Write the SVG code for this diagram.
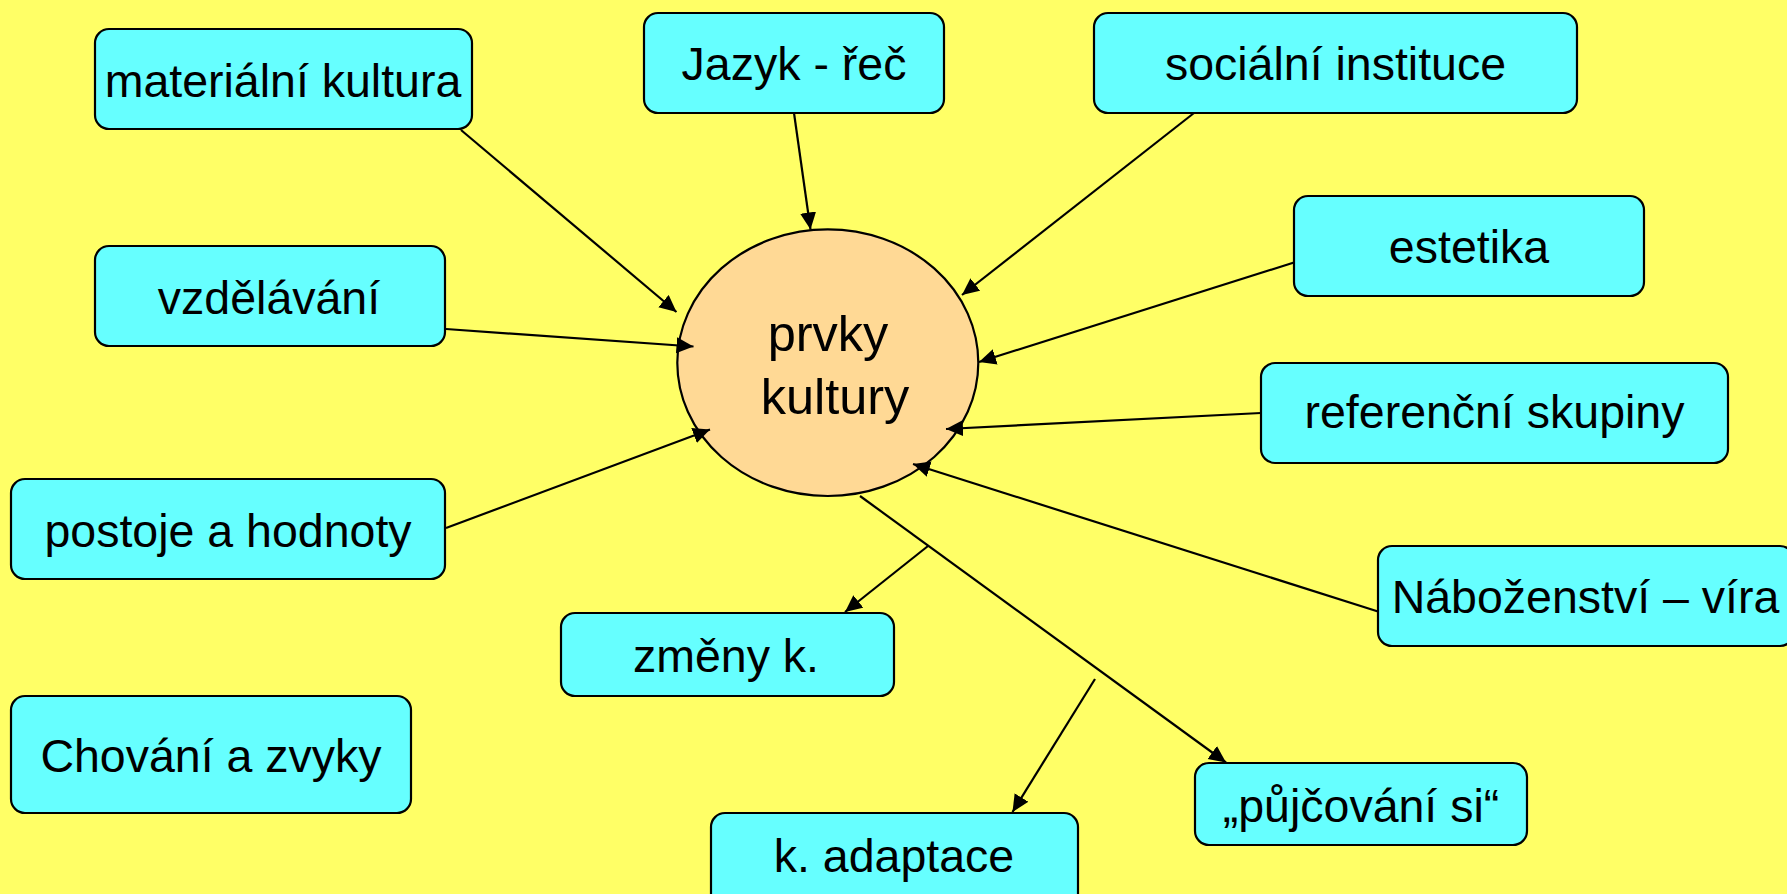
<svg xmlns="http://www.w3.org/2000/svg" width="1787" height="894" viewBox="0 0 1787 894">
<defs>
<style>
.box{fill:#66FFFF;stroke:#000;stroke-width:2.2}
.t{font-family:"Liberation Sans",Arial,sans-serif;font-size:46.5px;fill:#000;text-anchor:middle}
.c{font-size:50.5px}
.ln{stroke:#000;stroke-width:2.2;fill:none}
.ar{marker-end:url(#ah)}
</style>
<marker id="ah" markerUnits="userSpaceOnUse" markerWidth="20" markerHeight="18" refX="17" refY="8" orient="auto" viewBox="0 0 20 18">
<path d="M0,0 L17,8 L0,16 z" fill="#000"/>
</marker>
</defs>
<rect width="1787" height="894" fill="#FFFF66"/>
<g id="center">
<ellipse cx="827.8" cy="362.7" rx="150.5" ry="133.3" fill="#FFD995" stroke="#000" stroke-width="2.2"/>
<text class="t c" x="828" y="350.5">prvky</text>
<text class="t c" x="835" y="413.5">kultury</text>
</g>
<g id="connectors">
<line class="ln ar" x1="461" y1="130" x2="676.5" y2="312"/>
<line class="ln ar" x1="794" y1="113" x2="810.5" y2="229.5"/>
<line class="ln ar" x1="1194" y1="113" x2="962" y2="295"/>
<line class="ln ar" x1="1294" y1="262.5" x2="979" y2="362"/>
<line class="ln ar" x1="446" y1="329" x2="693.5" y2="346.5"/>
<line class="ln ar" x1="1261" y1="413" x2="946" y2="429"/>
<line class="ln ar" x1="446" y1="528" x2="710" y2="429.5"/>
<line class="ln ar" x1="1378" y1="611.5" x2="913" y2="464"/>
<line class="ln ar" x1="860" y1="496" x2="1226" y2="762.5"/>
<line class="ln ar" x1="928" y1="546" x2="845" y2="612"/>
<line class="ln ar" x1="1095" y1="679" x2="1012.5" y2="812"/>
</g>
<g id="n-materialni"><rect class="box" x="95" y="29" width="377" height="100" rx="14"/><text class="t" x="283" y="97">materiální kultura</text></g>
<g id="n-jazyk"><rect class="box" x="644" y="13" width="300" height="100" rx="14"/><text class="t" x="794" y="80">Jazyk - řeč</text></g>
<g id="n-socialni"><rect class="box" x="1094" y="13" width="483" height="100" rx="14"/><text class="t" x="1335.5" y="80">sociální instituce</text></g>
<g id="n-estetika"><rect class="box" x="1294" y="196" width="350" height="100" rx="14"/><text class="t" x="1469" y="263">estetika</text></g>
<g id="n-vzdelavani"><rect class="box" x="95" y="246" width="350" height="100" rx="14"/><text class="t" x="269" y="314">vzdělávání</text></g>
<g id="n-referencni"><rect class="box" x="1261" y="363" width="467" height="100" rx="14"/><text class="t" x="1494.5" y="428">referenční skupiny</text></g>
<g id="n-postoje"><rect class="box" x="11" y="479" width="434" height="100" rx="14"/><text class="t" x="228" y="546.5">postoje a hodnoty</text></g>
<g id="n-nabozenstvi"><rect class="box" x="1378" y="546" width="416" height="100" rx="14"/><text class="t" x="1585.5" y="613">Náboženství – víra</text></g>
<g id="n-zmeny"><rect class="box" x="561" y="613" width="333" height="83" rx="14"/><text class="t" x="726" y="671.5">změny k.</text></g>
<g id="n-chovani"><rect class="box" x="11" y="696" width="400" height="117" rx="14"/><text class="t" x="211" y="771.5">Chování a zvyky</text></g>
<g id="n-pujcovani"><rect class="box" x="1195" y="763" width="332" height="82" rx="14"/><text class="t" x="1361" y="822">„půjčování si“</text></g>
<g id="n-adaptace"><rect class="box" x="711" y="813" width="367" height="100" rx="14"/><text class="t" x="894" y="871.5">k. adaptace</text></g>
</svg>
